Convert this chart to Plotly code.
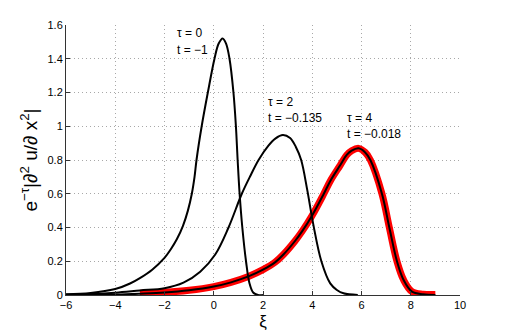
import plotly.graph_objects as go

# curves: e^-tau |d2u/dx2| against xi
x_tau0 = [-6, -5, -4, -3.4, -3, -2.5, -2.0, -1.75, -1.5, -1.25, -1.05, -0.89, -0.78, -0.7,
          -0.49, -0.24, 0.03, 0.2, 0.36, 0.5, 0.64, 0.8, 0.9, 0.97, 1.05, 1.16, 1.31, 1.45, 1.6,
          1.8, 2.0]
y_tau0 = [0.005, 0.012, 0.035, 0.068, 0.1, 0.15, 0.22, 0.27, 0.33, 0.41, 0.5, 0.6, 0.7,
          0.8, 1.0, 1.2, 1.4, 1.49, 1.52, 1.49, 1.4, 1.2, 1.0, 0.8, 0.6, 0.4, 0.2, 0.07, 0.015,
          0.0, 0.0]

x_tau2 = [-6, -5, -4, -3, -2, -1.23, -0.55, 0.06, 0.6, 1.14, 1.5, 1.82, 2.22, 2.5, 2.81, 3.1,
          3.33, 3.55, 3.8, 4.04, 4.37, 4.73, 5.0, 5.27, 5.85]
y_tau2 = [0.002, 0.006, 0.014, 0.027, 0.04, 0.073, 0.138, 0.24, 0.4, 0.6, 0.71, 0.8, 0.885, 0.927,
          0.948, 0.93, 0.879, 0.8, 0.62, 0.42, 0.2, 0.069, 0.03, 0.01, 0.0]

x_tau4 = [-6, -4, -3, -2, -1, 0.0, 0.7, 1.41, 2.0, 2.5, 2.83, 3.3, 3.6, 3.99, 4.47, 4.75, 5.14,
          5.4, 5.6, 5.88, 6.15, 6.36, 6.83, 7.13, 7.44, 7.71, 8.05, 8.5, 9.0]
y_tau4 = [0.0, 0.003, 0.008, 0.015, 0.028, 0.05, 0.075, 0.11, 0.15, 0.195, 0.24, 0.32, 0.38, 0.47,
          0.6, 0.68, 0.77, 0.83, 0.855, 0.869, 0.845, 0.8, 0.6, 0.4, 0.2, 0.089, 0.02, 0.004, 0.0]

x_red = [-3, -2, -1, 0.0, 0.7, 1.41, 2.0, 2.5, 2.83, 3.3, 3.6, 3.99, 4.47, 4.75, 5.14, 5.4, 5.6,
         5.88, 6.15, 6.36, 6.83, 7.13, 7.44, 7.71, 8.05, 8.5, 9.0]
y_red = [0.01, 0.016, 0.028, 0.05, 0.075, 0.11, 0.15, 0.195, 0.24, 0.32, 0.38, 0.47, 0.6, 0.68,
         0.77, 0.83, 0.855, 0.869, 0.845, 0.8, 0.6, 0.4, 0.2, 0.089, 0.02, 0.005, 0.003]

label_x = [-1.57, -1.57, 2.13, 2.13, 5.31, 5.31]
label_y = [1.55, 1.45, 1.146, 1.047, 1.047, 0.954]
label_text = ["τ = 0", "t = −1", "τ = 2", "t = −0.135", "τ = 4", "t = −0.018"]

fig = go.Figure()
fig.add_trace(go.Scatter(x=x_red, y=y_red, mode="lines",
                         line=dict(color="#ff0000", width=7, shape="spline", smoothing=1)))
for xs, ys in [(x_tau0, y_tau0), (x_tau2, y_tau2), (x_tau4, y_tau4)]:
    fig.add_trace(go.Scatter(x=xs, y=ys, mode="lines",
                             line=dict(color="black", width=2, shape="spline", smoothing=1)))

for lx, ly, lt in zip(label_x, label_y, label_text):
    fig.add_annotation(x=lx, y=ly, text=lt, showarrow=False, xanchor="left", yanchor="middle",
                       font=dict(size=12, color="black"))

axis_style = dict(showgrid=True, gridcolor="#a8a8a8", griddash="1px,3px", gridwidth=1,
                  showline=True, linecolor="#333333", linewidth=1, ticks="inside", ticklen=4,
                  tickcolor="#333333", zeroline=False, mirror=False, automargin=False,
                  tickfont=dict(size=11, color="black"))

fig.update_xaxes(range=[-6, 10], dtick=2, tick0=-6,
                 title=dict(text="ξ", font=dict(size=17, color="black"), standoff=4), **axis_style)
fig.update_yaxes(range=[0, 1.6], dtick=0.2, tick0=0,
                 title=dict(text="e<sup>−τ</sup>|∂<sup>2</sup> u/∂ x<sup>2</sup>|",
                            font=dict(size=19, color="black"), standoff=4), **axis_style)

# the page body adds an 8px offset, so the margins are pulled in by that much
fig.update_layout(width=507, height=332, showlegend=False,
                  margin=dict(l=58, r=55, t=17, b=45),
                  plot_bgcolor="white", paper_bgcolor="white",
                  font=dict(family="Liberation Sans, Arial, sans-serif"))

fig.write_html("out.html")
